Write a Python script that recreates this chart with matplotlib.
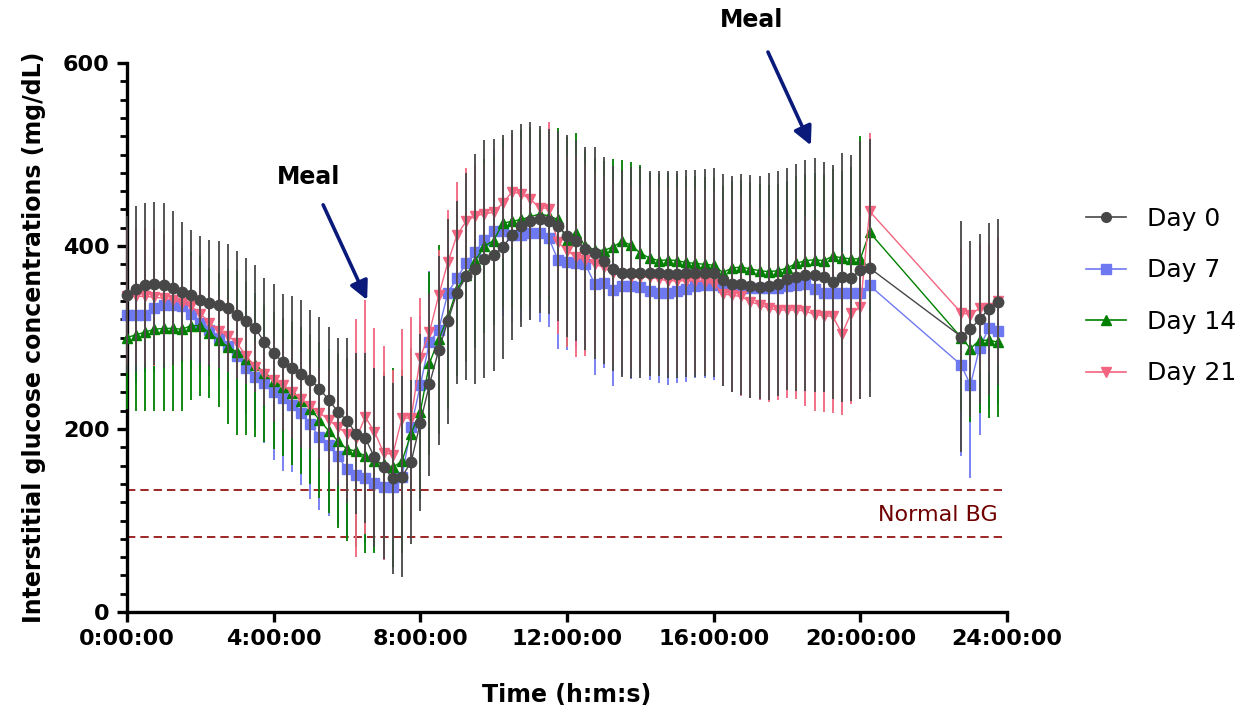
import numpy as np
import matplotlib
matplotlib.use('Agg')
from matplotlib import pyplot as plt
from matplotlib.ticker import MultipleLocator
from matplotlib.lines import Line2D

# time of day in hours, 15 min readings (gap between 20:15 and 22:45)
t = list(np.arange(0, 20.5, 0.25)) + [22.75, 23.0, 23.25, 23.5, 23.75]

day0 = [347, 353, 357, 359, 357, 354, 350, 346, 341, 338, 336, 332, 325, 318, 310, 295, 283, 273, 267, 260, 254, 244, 232, 219, 209,
        195, 190, 169, 158, 146, 148, 164, 207, 249, 286, 318, 349, 367, 375, 386, 390, 399, 412, 422, 427, 429, 427, 422, 411,
        406, 397, 392, 384, 375, 370, 371, 371, 370, 370, 369, 369, 370, 370, 371, 371, 363, 359, 358, 356, 355, 356, 359, 364,
        366, 368, 368, 366, 361, 366, 365, 374, 376,
        301, 309, 320, 331, 339]
day0_sd = [86, 91, 90, 89, 90, 84, 76, 71, 70, 69, 69, 70, 70, 69, 69, 70, 75, 75, 78, 81, 76, 78, 79, 81, 90,
           88, 93, 98, 100, 104, 110, 90, 97, 100, 103, 112, 100, 113, 126, 130, 127, 122, 115, 111, 108, 102, 101, 104, 110,
           110, 111, 116, 113, 112, 113, 115, 115, 112, 112, 113, 113, 113, 113, 113, 114, 116, 118, 121, 122, 122, 124, 123, 121,
           124, 126, 128, 126, 128, 136, 134, 141, 141,
           126, 96, 93, 94, 91]

day7 = [325, 325, 325, 332, 336, 336, 334, 326, 316, 308, 299, 291, 280, 267, 257, 250, 241, 234, 226, 217, 205, 191, 182, 170, 156,
        150, 146, 141, 137, 137, 148, 202, 248, 295, 308, 349, 365, 381, 394, 407, 416, 416, 412, 412, 414, 414, 409, 385, 383,
        381, 380, 359, 360, 352, 356, 356, 355, 351, 349, 349, 351, 353, 356, 357, 357, 355, 355, 355, 354, 354, 354, 354, 356,
        357, 358, 353, 349, 349, 349, 349, 349, 357,
        270, 248, 289, 310, 307]
day7_sd = [80, 75, 63, 70, 66, 64, 62, 60, 56, 50, 45, 48, 48, 51, 57, 65, 75, 80, 73, 78, 81, 80, 77, 74, 74,
           68, 71, 62, 60, 60, 62, 70, 75, 78, 80, 80, 82, 85, 85, 88, 90, 92, 95, 95, 95, 97, 97, 97, 97,
           91, 95, 100, 93, 105, 97, 101, 95, 97, 99, 101, 101, 102, 100, 101, 103, 95, 95, 95, 95, 95, 95, 95, 95,
           95, 95, 95, 95, 95, 95, 95, 95, 95,
           100, 101, 95, 88, 80]

day14 = [300, 303, 306, 309, 310, 310, 309, 313, 313, 305, 297, 290, 284, 277, 270, 261, 253, 246, 239, 231, 222, 210, 198, 187, 178,
         176, 170, 165, 162, 158, 165, 195, 219, 272, 298, 322, 353, 368, 384, 400, 406, 425, 427, 429, 432, 435, 433, 429, 405,
         414, 400, 396, 395, 399, 405, 401, 392, 387, 384, 385, 384, 382, 381, 380, 379, 371, 376, 377, 375, 373, 372, 373, 376,
         381, 384, 385, 384, 389, 387, 386, 386, 415,
         300, 288, 297, 297, 295]
day14_sd = [78, 83, 86, 89, 90, 90, 89, 81, 77, 71, 73, 85, 90, 84, 79, 75, 75, 75, 78, 80, 82, 85, 90, 95, 100,
            105, 105, 100, 100, 109, 100, 94, 95, 100, 103, 100, 95, 95, 95, 95, 92, 92, 95, 98, 98, 92, 92, 100, 114,
            110, 105, 100, 98, 96, 89, 91, 96, 93, 95, 95, 95, 95, 95, 95, 95, 95, 95, 95, 95, 95, 95, 95, 95,
            95, 95, 95, 95, 95, 95, 100, 134, 100,
            80, 80, 80, 85, 82]

day21 = [345, 345, 345, 344, 343, 341, 338, 334, 326, 316, 307, 302, 294, 280, 268, 260, 254, 248, 240, 233, 225, 218, 210, 202, 195,
         190, 213, 197, 174, 172, 212, 212, 278, 306, 346, 382, 412, 427, 433, 435, 437, 447, 459, 457, 451, 442, 441, 404, 395,
         388, 385, 380, 377, 370, 368, 366, 366, 366, 364, 362, 362, 362, 362, 361, 359, 348, 346, 345, 339, 336, 332, 330, 330,
         330, 329, 325, 324, 323, 304, 327, 333, 438,
         327, 325, 332, 332, 340]
day21_sd = [75, 75, 75, 75, 70, 65, 60, 55, 50, 45, 40, 40, 38, 30, 27, 33, 45, 48, 50, 52, 47, 50, 55, 60, 70,
            130, 128, 113, 117, 93, 97, 110, 65, 40, 50, 57, 58, 58, 55, 55, 55, 60, 60, 60, 60, 60, 95, 100, 105,
            109, 105, 100, 100, 100, 100, 100, 100, 100, 100, 100, 100, 100, 100, 100, 100, 101, 105, 109, 105, 104, 102, 98, 96,
            97, 104, 105, 105, 105, 89, 100, 100, 86,
            70, 70, 70, 70, 70]

xticks = [0, 4, 8, 12, 16, 20, 24]
xticklabels = ['0:00:00', '4:00:00', '8:00:00', '12:00:00', '16:00:00', '20:00:00', '24:00:00']
normal_bg = [133, 82]

plt.rcParams['font.family'] = 'DejaVu Sans'

fig = plt.figure(figsize=(12.47, 7.12), dpi=100)
ax = fig.add_axes([0.1018, 0.1404, 0.7058, 0.7711])

series = [
    (day7, day7_sd, 'Day 7', '#6E78F0', 's', 2),
    (day14, day14_sd, 'Day 14', '#008000', '^', 3),
    (day21, day21_sd, 'Day 21', '#F2647F', 'v', 4),
    (day0, day0_sd, 'Day 0', '#474747', 'o', 5),
]
handles = {}
for y, sd, lab, col, mk, z in series:
    ax.errorbar(t, y, yerr=sd, color=col, marker=mk, markersize=7.5, lw=1.0,
                elinewidth=1.3, capsize=0, zorder=z, clip_on=False)
    handles[lab] = Line2D([], [], color=col, marker=mk, markersize=7, lw=1.2)

# normal blood glucose band
ax.hlines(normal_bg, 0, 24, colors='#8B0000', linestyles=(0, (5, 3)), lw=1.2, zorder=1)
ax.text(22.12, 106, 'Normal BG', color='#700000', fontsize=16, ha='center', va='center')

# meal arrows
arrow = dict(arrowstyle='-|>', color='#0A1A7A', lw=2.6, mutation_scale=28, shrinkA=0, shrinkB=0)
ax.annotate('', xy=(6.55, 341), xytext=(5.35, 445), arrowprops=arrow, annotation_clip=False)
ax.annotate('', xy=(18.65, 510), xytext=(17.48, 612), arrowprops=arrow, annotation_clip=False)
ax.text(4.96, 475, 'Meal', fontsize=17, fontweight='bold', ha='center', va='center')
ax.text(17.04, 647, 'Meal', fontsize=17, fontweight='bold', ha='center', va='center', clip_on=False)

ax.set_xlim(0, 24)
ax.set_ylim(0, 600)
ax.set_xticks(xticks)
ax.set_xticklabels(xticklabels)
ax.set_yticks([0, 200, 400, 600])
ax.yaxis.set_minor_locator(MultipleLocator(20))
for lbl in ax.get_xticklabels() + ax.get_yticklabels():
    lbl.set_fontweight('bold')
    lbl.set_fontsize(16)

ax.spines['top'].set_visible(False)
ax.spines['right'].set_visible(False)
ax.spines['left'].set_linewidth(2.4)
ax.spines['bottom'].set_linewidth(2.4)
ax.tick_params(axis='both', which='major', length=7.5, width=2.4, pad=5)
ax.tick_params(axis='y', which='minor', length=5, width=2.0)

ax.set_xlabel('Time (h:m:s)', fontsize=17, fontweight='bold', labelpad=24)
ax.set_ylabel('Interstitial glucose concentrations (mg/dL)', fontsize=17, fontweight='bold', labelpad=12)

order = ['Day 0', 'Day 7', 'Day 14', 'Day 21']
ax.legend([handles[k] for k in order], order, loc='center left', bbox_to_anchor=(0.871, 0.584),
          bbox_transform=fig.transFigure, frameon=False, fontsize=18, handlelength=1.6,
          handletextpad=0.85, labelspacing=1.1, borderpad=0, borderaxespad=0)

plt.savefig('out.png', dpi=100)
